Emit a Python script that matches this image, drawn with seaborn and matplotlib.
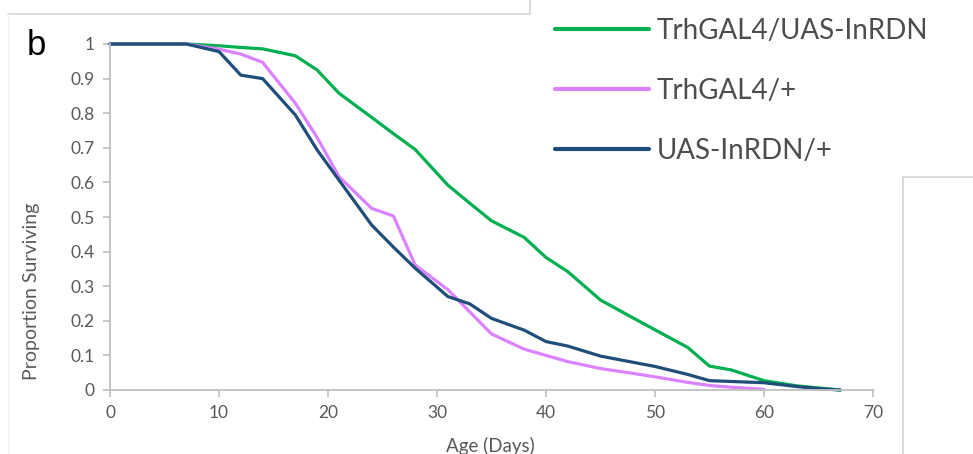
import matplotlib
matplotlib.use("Agg")
import matplotlib.pyplot as plt
from matplotlib.lines import Line2D
import seaborn as sns
import pandas as pd

# ---- data ----
series_names = ["TrhGAL4/UAS-InRDN", "TrhGAL4/+", "UAS-InRDN/+"]
series_colors = ["#00B050", "#DA82FF", "#1F4E79"]

green_days = [0, 7, 10, 12, 14, 17, 19, 21, 24, 26, 28, 31, 33, 35, 38, 40, 42, 45, 48, 50, 53, 55, 57, 60, 63, 67]
green_vals = [1, 1, 0.995, 0.99, 0.986, 0.966, 0.925, 0.858, 0.788, 0.741, 0.695, 0.592, 0.54, 0.489, 0.441,
              0.383, 0.342, 0.26, 0.208, 0.174, 0.123, 0.069, 0.058, 0.027, 0.012, 0]

pink_days = [0, 7, 10, 12, 14, 17, 19, 21, 24, 26, 28, 31, 35, 38, 40, 42, 45, 48, 50, 53, 55, 57, 60]
pink_vals = [1, 1, 0.985, 0.971, 0.947, 0.829, 0.73, 0.617, 0.525, 0.503, 0.361, 0.29, 0.162, 0.118, 0.1,
             0.082, 0.062, 0.048, 0.038, 0.022, 0.013, 0.008, 0.002]

blue_days = [0, 7, 10, 12, 14, 17, 19, 21, 24, 26, 28, 31, 33, 35, 38, 40, 42, 45, 48, 50, 53, 55, 60, 63, 65, 67]
blue_vals = [1, 1, 0.978, 0.91, 0.90, 0.795, 0.694, 0.607, 0.477, 0.413, 0.352, 0.27, 0.249, 0.207, 0.173,
             0.14, 0.127, 0.098, 0.08, 0.068, 0.045, 0.027, 0.021, 0.01, 0.004, 0]

x_ticks = [0, 10, 20, 30, 40, 50, 60, 70]
y_ticks = [0, 0.1, 0.2, 0.3, 0.4, 0.5, 0.6, 0.7, 0.8, 0.9, 1]
y_tick_labels = ["0", "0.1", "0.2", "0.3", "0.4", "0.5", "0.6", "0.7", "0.8", "0.9", "1"]

frames = []
for name, d, v in zip(series_names, [green_days, pink_days, blue_days], [green_vals, pink_vals, blue_vals]):
    frames.append(pd.DataFrame({"Age": d, "Surv": v, "Genotype": name}))
df = pd.concat(frames, ignore_index=True)

# ---- plot ----
sns.set_theme(style="white")
plt.rcParams["font.family"] = ["Lato", "DejaVu Sans"]

W, H = 973, 454
fig = plt.figure(figsize=(W / 100, H / 100), dpi=100)
ax = fig.add_axes([110 / W, (H - 390) / H, (873 - 110) / W, (390 - 44) / H])

sns.lineplot(data=df, x="Age", y="Surv", hue="Genotype", hue_order=series_names,
             palette=series_colors, linewidth=2.3, ax=ax, legend=True,
             estimator=None, sort=False)
for ln in ax.get_lines():
    ln.set_clip_on(False)
    ln.set_solid_joinstyle("round")

handles, labels = ax.get_legend_handles_labels()
ax.get_legend().remove()

ax.set_xlim(0, 70)
ax.set_ylim(0, 1)
ax.set_xticks(x_ticks)
ax.set_xticklabels([str(t) for t in x_ticks])
ax.set_yticks(y_ticks)
ax.set_yticklabels(y_tick_labels)

grey = "#BFBFBF"
txt = "#595959"
for s in ["top", "right"]:
    ax.spines[s].set_visible(False)
for s in ["left", "bottom"]:
    ax.spines[s].set_color(grey)
    ax.spines[s].set_linewidth(1.3)
ax.tick_params(axis="both", which="major", length=5, width=1.2, color=grey,
               labelcolor=txt, labelsize=12.5, direction="out")
ax.tick_params(axis="x", pad=6)
ax.tick_params(axis="y", pad=6)
ax.xaxis.set_ticks_position("bottom")
ax.yaxis.set_ticks_position("left")

ax.set_xlabel("Age (Days)", fontsize=13.5, color=txt)
ax.set_ylabel("Proportion Surviving", fontsize=14, color=txt)
ax.xaxis.set_label_coords((490 - 110) / (873 - 110), -(437 - 390) / (390 - 44))
ax.yaxis.set_label_coords(-(110 - 40) / (873 - 110), (390 - 291) / (390 - 44))

fig.legend(handles, labels, loc="upper left", bbox_to_anchor=(555 / W, 1 - 18 / H),
           frameon=False, fontsize=20, handlelength=3.4, handletextpad=0.25,
           labelspacing=1.22, borderpad=0, borderaxespad=0, labelcolor="#4D4D4D")
for lh in fig.legends[0].legend_handles:
    lh.set_linewidth(3)

fig.text(27 / W, 1 - 55 / H, "b", fontsize=25, color="black",
         family=["Liberation Sans", "DejaVu Sans"], va="baseline", ha="left")

# decorative panel borders
deco = "#D4D4D4"
fig.add_artist(Line2D([8 / W, 530 / W], [1 - 14 / H, 1 - 14 / H], color=deco, lw=1.2, transform=fig.transFigure))
fig.add_artist(Line2D([530 / W, 530 / W], [1 - 14 / H, 1.0], color=deco, lw=1.2, transform=fig.transFigure))
fig.add_artist(Line2D([8 / W, 8 / W], [0, 1 - 14 / H], color="#F0F0F0", lw=1.0, transform=fig.transFigure))
fig.add_artist(Line2D([903 / W, 903 / W], [0, 1 - 177 / H], color=deco, lw=1.2, transform=fig.transFigure))
fig.add_artist(Line2D([903 / W, 1.0], [1 - 177 / H, 1 - 177 / H], color=deco, lw=1.2, transform=fig.transFigure))

fig.savefig("out.png", dpi=100)
